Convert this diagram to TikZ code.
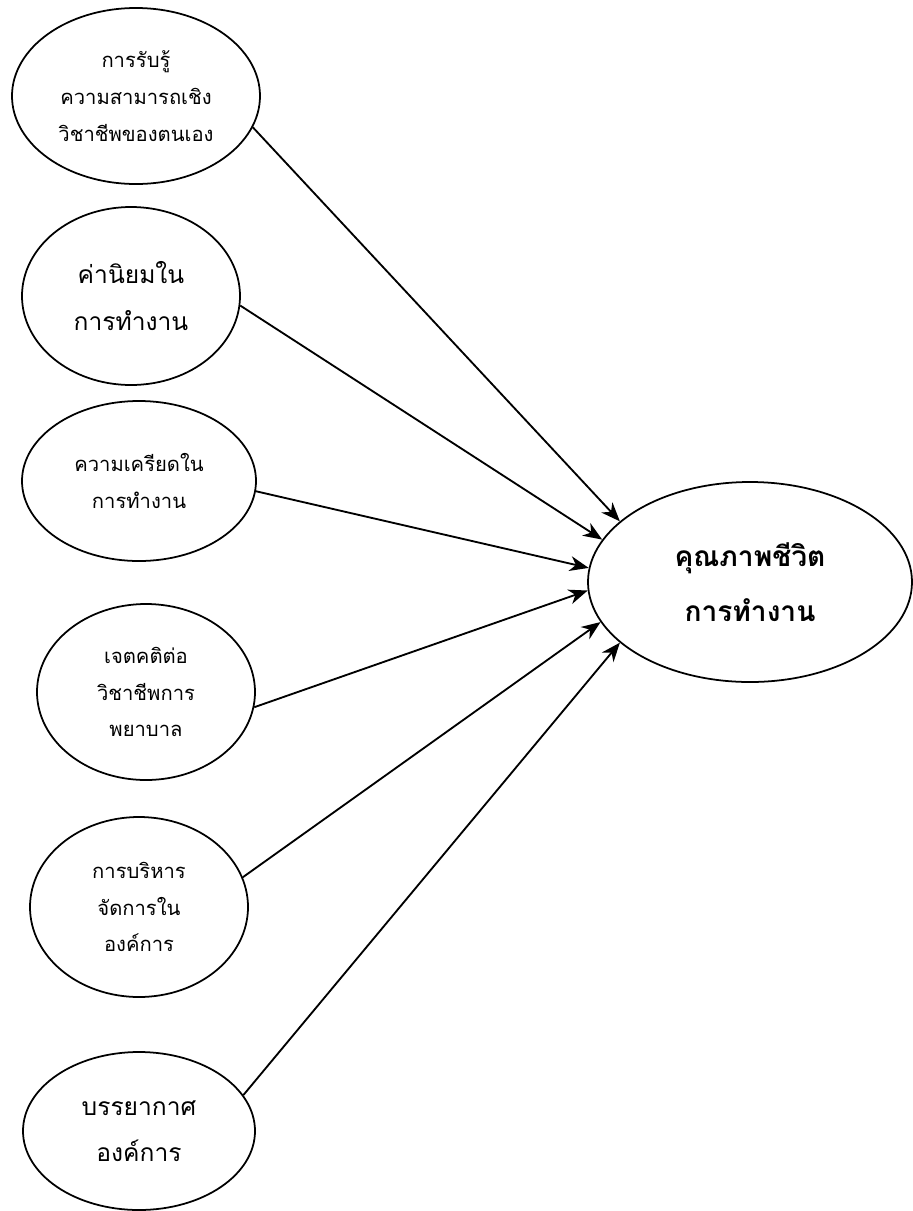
\documentclass[tikz,border=0pt]{standalone}
\usepackage{fontspec}
\newfontfamily\thaifont[Script=Thai]{Loma}
\usetikzlibrary{shapes.geometric,arrows.meta}
\def\pu{0.02cm}
\tikzset{
  factor/.style={ellipse, draw, line width=1pt, inner sep=0pt, align=center,
    font=\thaifont\fontsize{11.5}{21}\selectfont},
  bigtext/.style={font=\thaifont\fontsize{14}{26.5}\selectfont},
  outcome/.style={ellipse, draw, line width=1pt, inner sep=0pt, align=center,
    font=\thaifont\bfseries\fontsize{16}{31}\selectfont},
  path/.style={line width=1.05pt, -{Stealth[length=19*\pu, width=15*\pu, inset=6*\pu]}}
}
\begin{document}
\begin{tikzpicture}[x=\pu, y=-\pu]
\useasboundingbox (0,0) rectangle (913,1211);

% causal factors
\node[factor, minimum width=248*\pu, minimum height=176*\pu] (e1) at (136,96)
  {การรับรู้\\ความสามารถเชิง\\วิชาชีพของตนเอง};
\node[factor, bigtext, minimum width=218*\pu, minimum height=178*\pu] (e2) at (131,296)
  {ค่านิยมใน\\การทำงาน};
\node[factor, minimum width=234*\pu, minimum height=160*\pu] (e3) at (139,481)
  {ความเครียดใน\\การทำงาน};
\node[factor, minimum width=218*\pu, minimum height=176*\pu] (e4) at (146,692)
  {เจตคติต่อ\\วิชาชีพการ\\พยาบาล};
\node[factor, minimum width=218*\pu, minimum height=180*\pu] (e5) at (139,907)
  {การบริหาร\\จัดการใน\\องค์การ};
\node[factor, bigtext, minimum width=232*\pu, minimum height=158*\pu] (e6) at (139,1131)
  {บรรยากาศ\\องค์การ};

% outcome
\node[outcome, minimum width=324*\pu, minimum height=200*\pu] (q) at (750,582)
  {คุณภาพชีวิต\\การทำงาน};

% paths
\draw[path] (e1.-15) -- (q.155);
\draw[path] (e2.-5) -- (q.164);
\draw[path] (e3.-5) -- (q.175.5);
\draw[path] (e4.-8) -- (q.-177);
\draw[path] (e5.16) -- (q.195.5);
\draw[path] (e6.19) -- (q.205);
\end{tikzpicture}
\end{document}
